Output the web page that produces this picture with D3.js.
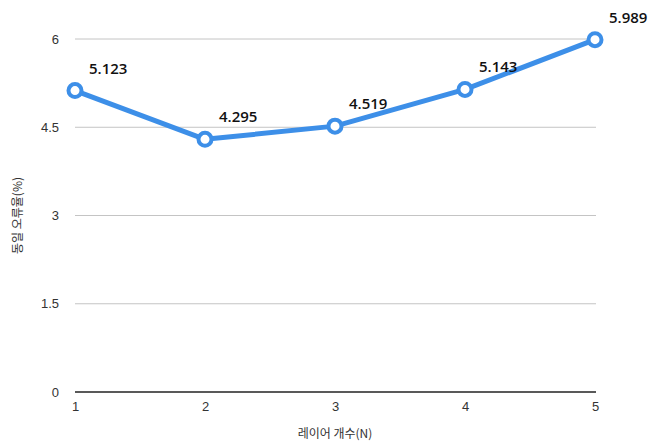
<!DOCTYPE html>
<html>
<head>
<meta charset="utf-8">
<script src="https://cdn.jsdelivr.net/npm/d3@7"></script>
<style>
  body { margin: 0; background: #fff; }
  .tick text { font-family: "Liberation Sans", Arial, sans-serif; }
</style>
</head>
<body>
<div class="graph"></div>
<script>
// data
const layers = [1, 2, 3, 4, 5];
const eer = [5.123, 4.295, 4.519, 5.143, 5.989];
const yTicks = [0, 1.5, 3, 4.5, 6];

const SIZE = {X: 665, Y: 443};
const MARGIN = {TOP: 39, LEFT: 75, RIGHT: 70, BOTTOM: 51};
const DIM = {WIDTH: SIZE.X - MARGIN.LEFT - MARGIN.RIGHT,
             HEIGHT: SIZE.Y - MARGIN.TOP - MARGIN.BOTTOM};

const svg = d3.select(".graph").append("svg")
    .attr("width", SIZE.X)
    .attr("height", SIZE.Y);

const graph = svg.append("g")
    .attr("transform", `translate(${MARGIN.LEFT}, ${MARGIN.TOP})`);

// scales
const x = d3.scaleLinear().domain([1, 5]).range([0, DIM.WIDTH]);
const y = d3.scaleLinear().domain([0, 6]).range([DIM.HEIGHT, 0]);

// gridlines
graph.selectAll("line.grid")
    .data(yTicks.filter(d => d > 0))
    .enter().append("line")
    .attr("class", "grid")
    .attr("x1", 0).attr("x2", DIM.WIDTH + 1)
    .attr("y1", d => y(d)).attr("y2", d => y(d))
    .attr("stroke", "#c4c4c4")
    .attr("stroke-width", 1);

// y axis (labels only)
const yAxis = graph.append("g")
    .call(d3.axisLeft(y).tickValues(yTicks).tickSize(0).tickPadding(16).tickFormat(d3.format("")));
yAxis.select(".domain").remove();
yAxis.selectAll("text").attr("font-size", 13).attr("fill", "#333");

// x axis
const xAxis = graph.append("g")
    .attr("transform", `translate(0, ${DIM.HEIGHT})`)
    .call(d3.axisBottom(x).tickValues(layers).tickSize(0).tickPadding(10).tickFormat(d3.format("d")));
xAxis.select(".domain")
    .attr("stroke", "#222")
    .attr("stroke-width", 1.5)
    .attr("d", `M0,0H${DIM.WIDTH + 1}`);
xAxis.selectAll("text").attr("font-size", 13).attr("fill", "#333");

// axis titles
svg.append("text")
    .attr("x", MARGIN.LEFT + DIM.WIDTH / 2)
    .attr("y", 438)
    .attr("text-anchor", "middle")
    .attr("font-family", "'Noto Sans CJK KR', sans-serif")
    .attr("font-size", 12)
    .attr("fill", "#333")
    .text("레이어 개수(N)");

svg.append("text")
    .attr("transform", `translate(22, ${MARGIN.TOP + DIM.HEIGHT / 2}) rotate(-90)`)
    .attr("text-anchor", "middle")
    .attr("font-family", "'Noto Sans CJK KR', sans-serif")
    .attr("font-size", 12)
    .attr("fill", "#333")
    .text("동일 오류율(%)");

// line
const line = d3.line()
    .x((d, i) => x(layers[i]))
    .y(d => y(d));

graph.append("path")
    .datum(eer)
    .attr("fill", "none")
    .attr("stroke", "#3d8fe8")
    .attr("stroke-width", 5)
    .attr("stroke-linejoin", "round")
    .attr("d", line);

graph.selectAll("circle")
    .data(eer)
    .enter().append("circle")
    .attr("cx", (d, i) => x(layers[i]))
    .attr("cy", d => y(d))
    .attr("r", 6.5)
    .attr("fill", "white")
    .attr("stroke", "#3d8fe8")
    .attr("stroke-width", 4);

// value labels
graph.selectAll("text.val")
    .data(eer)
    .enter().append("text")
    .attr("class", "val")
    .attr("x", (d, i) => x(layers[i]) + 14)
    .attr("y", d => y(d) - 17)
    .attr("font-family", "'Open Sans', sans-serif")
    .attr("font-weight", 600)
    .attr("font-size", 15)
    .attr("fill", "#111")
    .text(d => d3.format(".3f")(d));
</script>
</body>
</html>
